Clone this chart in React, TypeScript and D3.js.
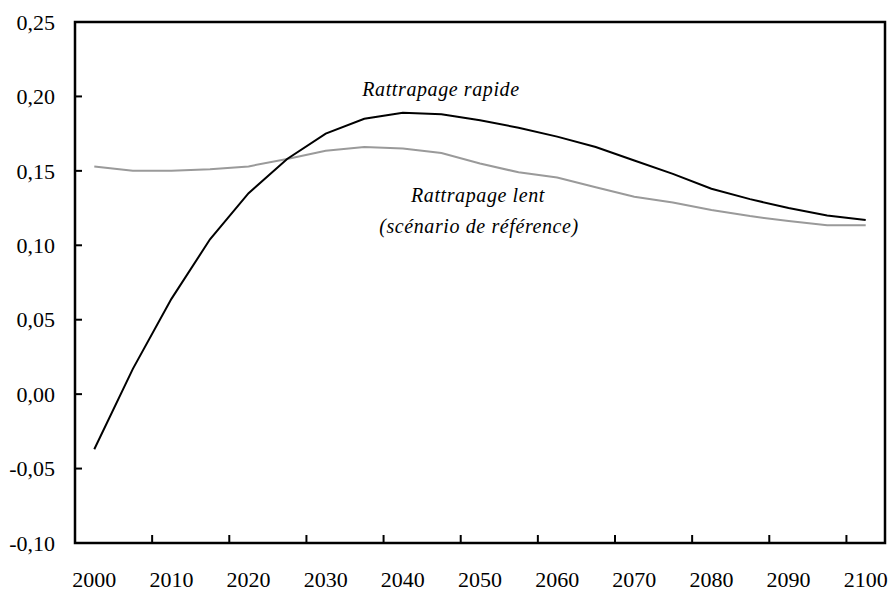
import { useEffect, useRef } from "react"
import * as d3 from "d3"

const years = [
  2000, 2005, 2010, 2015, 2020, 2025, 2030, 2035, 2040, 2045, 2050, 2055, 2060, 2065, 2070, 2075, 2080, 2085,
  2090, 2095, 2100,
]
const rapide = [
  -0.037, 0.017, 0.064, 0.104, 0.135, 0.158, 0.175, 0.185, 0.189, 0.188, 0.184, 0.179, 0.173, 0.166, 0.157,
  0.148, 0.138, 0.131, 0.125, 0.12, 0.117,
]
const lent = [
  0.153, 0.15, 0.15, 0.151, 0.153, 0.158, 0.1635, 0.166, 0.165, 0.162, 0.155, 0.149, 0.1456, 0.139, 0.1326,
  0.1288, 0.1237, 0.1196, 0.1163, 0.1134, 0.1134,
]
const yTicks = [-0.1, -0.05, 0, 0.05, 0.1, 0.15, 0.2, 0.25]
const xLabels = [2000, 2010, 2020, 2030, 2040, 2050, 2060, 2070, 2080, 2090, 2100]
const xTickYears = [2010, 2020, 2030, 2040, 2050, 2060, 2070, 2080, 2090, 2100]

const FONT = "'Liberation Serif', 'Times New Roman', serif"

export default function App() {
  const svgRef = useRef<SVGSVGElement>(null)

  useEffect(() => {
    if (!svgRef.current) return
    const width = 893
    const height = 591
    d3.select(svgRef.current).selectAll("*").remove()

    const margin = { top: 22, right: 8, bottom: 48, left: 75 }
    const x0 = margin.left
    const x1 = width - margin.right
    const y0 = height - margin.bottom
    const y1 = margin.top

    const svg = d3.select(svgRef.current).attr("width", width).attr("height", height)

    const xScale = d3.scaleBand<number>().domain(years).range([x0, x1]).padding(0)
    const yScale = d3.scaleLinear().domain([-0.1, 0.25]).range([y0, y1])
    const cx = (yr: number) => xScale(yr)! + xScale.bandwidth() / 2
    const fmt = (v: number) => d3.format(".2f")(v).replace(".", ",").replace("−", "-")

    // lines
    const line = d3
      .line<number>()
      .x((_, i) => cx(years[i]))
      .y((d) => yScale(d))

    svg
      .append("path")
      .datum(lent)
      .attr("d", line)
      .attr("fill", "none")
      .attr("stroke", "#9a9a9a")
      .attr("stroke-width", 2)

    svg
      .append("path")
      .datum(rapide)
      .attr("d", line)
      .attr("fill", "none")
      .attr("stroke", "#000")
      .attr("stroke-width", 2)

    // frame
    svg
      .append("rect")
      .attr("x", x0)
      .attr("y", y1)
      .attr("width", x1 - x0)
      .attr("height", y0 - y1)
      .attr("fill", "none")
      .attr("stroke", "#000")
      .attr("stroke-width", 2.5)

    // y ticks (inside)
    svg
      .selectAll("line.yt")
      .data(yTicks)
      .enter()
      .append("line")
      .attr("x1", x0)
      .attr("x2", x0 + 7)
      .attr("y1", (d) => yScale(d))
      .attr("y2", (d) => yScale(d))
      .attr("stroke", "#000")
      .attr("stroke-width", 2)

    svg
      .selectAll("text.yl")
      .data(yTicks)
      .enter()
      .append("text")
      .attr("x", 55)
      .attr("y", (d) => yScale(d))
      .attr("dy", "0.35em")
      .attr("text-anchor", "end")
      .attr("font-family", FONT)
      .attr("font-size", 22)
      .attr("fill", "#000")
      .text((d) => fmt(d))

    // x ticks (between categories, inside)
    svg
      .selectAll("line.xt")
      .data(xTickYears)
      .enter()
      .append("line")
      .attr("x1", (d) => xScale(d)!)
      .attr("x2", (d) => xScale(d)!)
      .attr("y1", y0)
      .attr("y2", y0 - 8)
      .attr("stroke", "#000")
      .attr("stroke-width", 2)

    svg
      .selectAll("text.xl")
      .data(xLabels)
      .enter()
      .append("text")
      .attr("x", (d) => cx(d))
      .attr("y", 587)
      .attr("text-anchor", "middle")
      .attr("font-family", FONT)
      .attr("font-size", 22)
      .attr("fill", "#000")
      .text((d) => String(d))

    // annotations
    const note = (t: string, x: number, y: number) =>
      svg
        .append("text")
        .attr("x", x)
        .attr("y", y)
        .attr("text-anchor", "middle")
        .attr("font-family", FONT)
        .attr("font-style", "italic")
        .attr("font-size", 20)
        .attr("letter-spacing", 0.6)
        .attr("fill", "#000")
        .text(t)

    note("Rattrapage rapide", 441, 96)
    note("Rattrapage lent", 478, 202)
    note("(scénario de référence)", 479, 233)
  }, [])

  return <svg ref={svgRef} style={{ position: "absolute", left: 0, top: 0 }} />
}
